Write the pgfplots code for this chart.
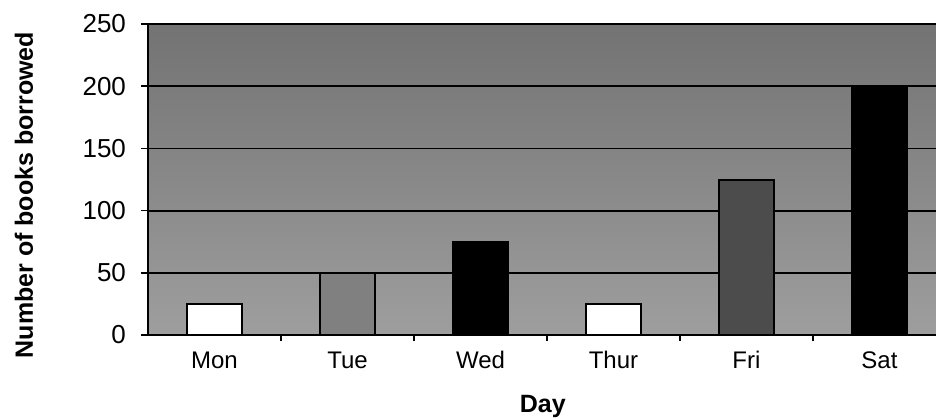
\documentclass[border=0pt]{standalone}
\usepackage{pgfplots}
\pgfplotsset{compat=1.18}
\usepackage{fontspec}
\setmainfont{Liberation Sans}
\begin{document}
\begin{tikzpicture}
\begin{axis}[
  scale only axis,
  width=394pt, height=155.5pt,
  at={(0,0)}, anchor=south west,
  xmin=-0.5, xmax=5.425,
  ymin=0, ymax=250,
  axis x line*=bottom, axis y line*=left,
  axis line style={line width=1pt, -},
  ytick={0,50,100,150,200,250},
  xtick={0,1,2,3,4,5},
  xticklabels={Mon,Tue,Wed,Thur,Fri,Sat},
  minor xtick={0.5,1.5,2.5,3.5,4.5},
  major x tick style={draw=none},
  tick align=outside,
  major tick length=3.5pt,
  minor tick length=3pt,
  tick style={black, line width=0.8pt},
  ymajorgrids,
  major grid style={black, line width=0.9pt},
  /pgf/number format/assume math mode=true,
  ticklabel style={font=\fontsize{12}{14}\selectfont},
  yticklabel style={anchor=east, font=\fontsize{13}{15}\selectfont, xshift=-4pt},
  xticklabel style={anchor=base, yshift=-13pt},
  ylabel={Number of books borrowed},
  xlabel={Day},
  label style={font=\fontsize{12.5}{15}\selectfont\bfseries},
  ylabel style={at={(axis description cs:0,0.45)}, anchor=center, yshift=62pt},
  xlabel style={at={(axis description cs:0.501,-0.2476)}, anchor=base},
  axis background/.style={shade, top color=black!55, bottom color=black!38},
  ybar, bar width=27.5pt, bar shift=0pt,
  every axis plot/.append style={draw=black, line width=1pt},
  clip=false,
]
\addplot[fill=white] coordinates {(0,25)};
\addplot[fill=black!50] coordinates {(1,50)};
\addplot[fill=black] coordinates {(2,75)};
\addplot[fill=white] coordinates {(3,25)};
\addplot[fill=black!70] coordinates {(4,125)};
\addplot[fill=black] coordinates {(5,200)};
\end{axis}
\pgfresetboundingbox
\path (-74pt,-41.5pt) rectangle (394pt,167.5pt);
\end{tikzpicture}
\end{document}
